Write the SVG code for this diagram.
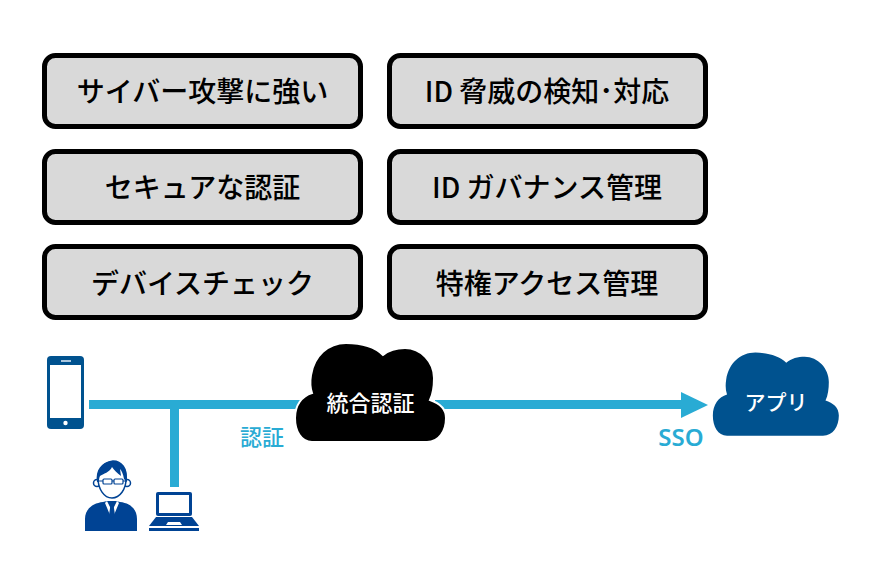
<svg xmlns="http://www.w3.org/2000/svg" xmlns:xlink="http://www.w3.org/1999/xlink" width="875" height="586" viewBox="0 0 875 586">
<style>
text{font-family:"Noto Sans CJK JP","Noto Sans",sans-serif;text-anchor:middle}
.box{fill:#d9d9d9;stroke:#000;stroke-width:5}
.lbl{font-size:28px;font-weight:500;fill:#000}
.link{fill:#29abd4}
.cap{font-size:22px;font-weight:500;fill:#29abd4}
</style>
<defs>
<path id="cloud" d="M312 442C301 442 295 431 295 418C295 405 302 396 312 393C310 387 310 381 311 375C314 356 328 343 346 343C361 343 375 347 383 355C389 350 397 348 405 348C421 348 434 362 434 378C434 386 433 394 430 400C439 403 446 408 446 418C446 431 439 442 427 442Z"/>
</defs>
<rect width="875" height="586" fill="#fff"/>
<g id="node-cyber"><rect class="box" x="44.500" y="55.500" width="316" height="71" rx="11"/><text class="lbl" x="202.500" y="102">サイバー攻撃に強い</text></g>
<g id="node-threat"><rect class="box" x="389.500" y="55.500" width="316" height="71" rx="11"/><text class="lbl" x="547" y="102">ID 脅威の検知･対応</text></g>
<g id="node-auth"><rect class="box" x="44.500" y="151.500" width="316" height="71" rx="11"/><text class="lbl" x="202.500" y="198">セキュアな認証</text></g>
<g id="node-gov"><rect class="box" x="389.500" y="151.500" width="316" height="71" rx="11"/><text class="lbl" x="547" y="198">ID ガバナンス管理</text></g>
<g id="node-device"><rect class="box" x="44.500" y="246.500" width="316" height="71" rx="11"/><text class="lbl" x="202.500" y="294">デバイスチェック</text></g>
<g id="node-priv"><rect class="box" x="389.500" y="246.500" width="316" height="71" rx="11"/><text class="lbl" x="547" y="294">特権アクセス管理</text></g>
<g id="connectors">
<rect class="link" x="89" y="400" width="215" height="9"/>
<rect class="link" x="170" y="409" width="9" height="78"/>
<rect class="link" x="435" y="400" width="246" height="9"/>
<polygon class="link" points="681,392 708,405 681,418"/>
</g>
<g id="node-phone" fill="#00528f">
<rect x="47" y="356" width="37" height="73" rx="4"/>
<rect x="50" y="365" width="31" height="53" fill="#fff"/>
<rect x="61" y="360" width="10" height="2" fill="#a9c6de"/>
<circle cx="65.500" cy="423" r="2.200" fill="#fff"/>
</g>
<g id="node-user" fill="#004394">
<path d="M85 531V519C85 509 93 503 103 502L107 501H116L120 502C130 503 137 509 137 519V531Z"/>
<path d="M107 501L112 511L117 501L119 503L114 515L112 515L110 515L105 503Z" fill="#fff"/>
<path d="M109.500 502H114.500L113.800 507L115 515L112 518L109 515L110.200 507Z"/>
<circle cx="97" cy="483" r="3.500" fill="#fff" stroke="#004394" stroke-width="1.500"/>
<circle cx="127" cy="483" r="3.500" fill="#fff" stroke="#004394" stroke-width="1.500"/>
<path d="M98 478C98 470 104 462 113 461C122 461 127 469 126 479C126 489 120 498 112 498C104 498 98 489 98 478Z" fill="#fff" stroke="#004394" stroke-width="1.500"/>
<path d="M97 482C95 470 102 462 111 461C121 460 128 468 127 482L124 479C123 474 122 471 120 469L121 476C117 473 114 470 112 467C110 472 103 474 100 476C99 478 99 480 99 482Z"/>
<rect x="103" y="479" width="9" height="5" rx="1" fill="none" stroke="#004394" stroke-width="1.200"/>
<rect x="114" y="479" width="9" height="5" rx="1" fill="none" stroke="#004394" stroke-width="1.200"/>
<path d="M97 481H103M112 481H114M123 481H127" stroke="#004394" stroke-width="1.200"/>
</g>
<g id="node-laptop" fill="#004394">
<rect x="156" y="492" width="36" height="24" rx="2"/>
<rect x="159" y="495" width="30" height="18" fill="#fff"/>
<path d="M156 517H192L199 526H149Z"/>
<path d="M166 525L168 522H180L182 525Z" fill="#fff"/>
<rect x="149" y="528" width="50" height="3"/>
</g>
<g id="node-idp">
<use xlink:href="#cloud" href="#cloud" fill="#000" stroke="#fff" stroke-width="2"/>
<text x="370.500" y="411" font-size="22" font-weight="500" fill="#fff">統合認証</text>
</g>
<g id="node-app">
<use xlink:href="#cloud" href="#cloud" fill="#00528f" transform="translate(466.700 64.500) scale(.8344 .84)"/>
<text x="776" y="410" font-size="21" font-weight="500" fill="#fff">アプリ</text>
</g>
<text class="cap" x="262" y="445">認証</text>
<text class="cap" x="681" y="446" style="font-size:24px;font-family:'Noto Sans',sans-serif;font-weight:600">SSO</text>
</svg>
